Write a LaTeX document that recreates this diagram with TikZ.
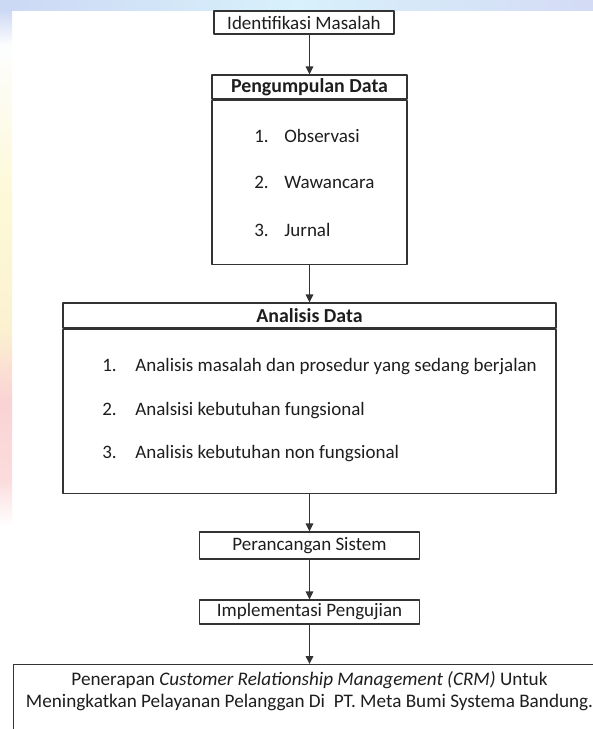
\documentclass[tikz,border=0pt]{standalone}
\usepackage{fontspec}
\setmainfont{Carlito}
\usetikzlibrary{arrows.meta}
\newcommand{\pxu}{0.584pt}
\definecolor{bgblue}{HTML}{CCD8F4}
\definecolor{bgcyan}{HTML}{D8F1FB}
\definecolor{bglav}{HTML}{D4DBF5}
\definecolor{bgcream}{HTML}{FDF9D6}
\definecolor{bgsand}{HTML}{FBF1D0}
\definecolor{bgpink}{HTML}{FAD3D4}
\definecolor{lineclr}{HTML}{333333}
\definecolor{txtclr}{HTML}{1E1E1E}
\begin{document}
\begin{tikzpicture}[x=\pxu, y=-\pxu, font=\fontsize{11.1}{13}\selectfont, line join=round,
	box/.style={draw=lineclr, line width=0.75pt, inner sep=1pt, text=txtclr},
	hdr/.style={box, font=\fontsize{11.6}{14}\selectfont\bfseries},
	itm/.style={anchor=base west, inner sep=0pt, text=txtclr},
	arr/.style={draw=lineclr, line width=0.75pt, -{Triangle[length=4.6pt,width=4.4pt]}}]
	\useasboundingbox (0,0) rectangle (593,729);
	\clip (0,0) rectangle (593,729);
	% background strips
	\fill[white] (0,0) rectangle (593,729);
	\shade[left color=bgblue, right color=bglav, middle color=bgcyan] (0,0) rectangle (593,10);
	\shade[top color=bgblue, bottom color=white!95!bgblue] (0,10) rectangle (12,45);
	\shade[top color=white!95!bgblue, bottom color=bgcream] (0,45) rectangle (12,200);
	\shade[top color=bgcream, bottom color=bgsand] (0,200) rectangle (12,330);
	\shade[top color=bgsand, bottom color=bgpink] (0,330) rectangle (12,400);
	\shade[top color=bgpink, bottom color=bgpink!80] (0,400) rectangle (12,480);
	\shade[top color=bgpink!80, bottom color=white] (0,480) rectangle (12,526);
	% boxes
	\node[box, minimum width=180*\pxu, minimum height=23*\pxu] (idm) at (304,22.5) {Identifikasi Masalah};
	\node[hdr, minimum width=195*\pxu, minimum height=24*\pxu] (pgdh) at (309.5,87) {Pengumpulan Data};
	\node[box, minimum width=195*\pxu, minimum height=164*\pxu, anchor=north] (pgdb) at (pgdh.south) {};
	\node[itm] (pgn1) at (254,142) {1.};
	\node[itm] (pgt1) at (284,142) {Observasi};
	\node[itm] (pgn2) at (254,188) {2.};
	\node[itm] (pgt2) at (284,188) {Wawancara};
	\node[itm] (pgn3) at (254,236) {3.};
	\node[itm] (pgt3) at (284,236) {Jurnal};
	\node[hdr, minimum width=493*\pxu, minimum height=25*\pxu] (adh) at (309.5,315.5) {Analisis Data};
	\node[box, minimum width=493*\pxu, minimum height=164*\pxu, anchor=north] (adb) at (adh.south) {};
	\node[itm] (adn1) at (102,371) {1.};
	\node[itm] (adt1) at (135,371) {Analisis masalah dan prosedur yang sedang berjalan};
	\node[itm] (adn2) at (102,415) {2.};
	\node[itm] (adt2) at (135,415) {Analsisi kebutuhan fungsional};
	\node[itm] (adn3) at (102,458) {3.};
	\node[itm] (adt3) at (135,458) {Analisis kebutuhan non fungsional};
	\node[box, minimum width=220*\pxu, minimum height=27*\pxu] (ps) at (309.5,545.5) {Perancangan Sistem};
	\node[box, minimum width=220*\pxu, minimum height=24*\pxu] (imp) at (309.5,612) {Implementasi Pengujian};
	\node[box, minimum width=620*\pxu, minimum height=100*\pxu, anchor=north west] (crmbox) at (13,664) {};
	\node[align=center, inner sep=0pt, text=txtclr, font=\fontsize{11.2}{12.9}\selectfont] (crm) at (309.5,691)
		{Penerapan \textit{Customer Relationship Management (CRM)} Untuk\\
		Meningkatkan Pelayanan Pelanggan Di\ \ PT. Meta Bumi Systema Bandung.};
	% arrows
	\draw[arr] (idm.south -| pgdh.north) -- (pgdh.north);
	\draw[arr] (pgdb.south) -- (adh.north);
	\draw[arr] (adb.south) -- (ps.north);
	\draw[arr] (ps.south) -- (imp.north);
	\draw[arr] (imp.south) -- (imp.south |- crmbox.north);
\end{tikzpicture}
\end{document}
